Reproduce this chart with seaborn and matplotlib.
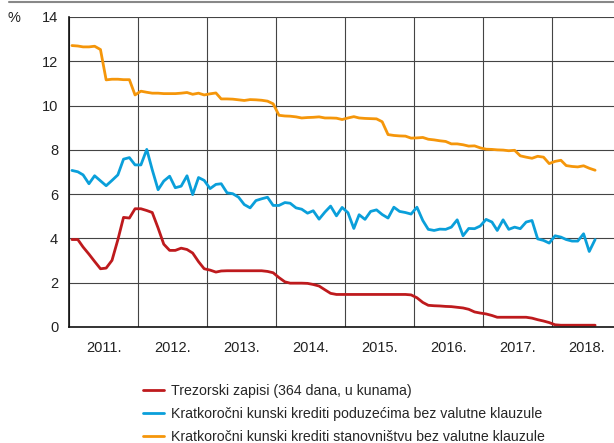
import pandas as pd
import matplotlib.pyplot as plt
import matplotlib.dates as mdates
from matplotlib.lines import Line2D
import seaborn as sns

# monthly data, Jan 2011 - Aug 2018
months = pd.date_range('2011-01-01', periods=92, freq='MS') + pd.Timedelta(days=14)

trezorski = [3.95, 3.95, 3.61, 3.29, 2.96, 2.63, 2.66, 3.01, 3.94, 4.95, 4.92, 5.34,
             5.34, 5.26, 5.17, 4.47, 3.74, 3.46, 3.46, 3.56, 3.50, 3.34, 2.95, 2.63,
             2.57, 2.48, 2.53, 2.54, 2.54, 2.54, 2.54, 2.54, 2.54, 2.54, 2.51, 2.45,
             2.23, 2.04, 1.98, 1.98, 1.98, 1.97, 1.92, 1.85, 1.68, 1.52, 1.47, 1.47,
             1.47, 1.47, 1.47, 1.47, 1.47, 1.47, 1.47, 1.47, 1.47, 1.47, 1.47, 1.45,
             1.32, 1.11, 0.98, 0.96, 0.95, 0.93, 0.92, 0.89, 0.86, 0.80, 0.68, 0.63,
             0.59, 0.52, 0.44, 0.44, 0.44, 0.44, 0.44, 0.44, 0.40, 0.33, 0.27, 0.20,
             0.10, 0.08, 0.08, 0.08, 0.08, 0.08, 0.08, 0.08]

poduzeca = [7.07, 7.01, 6.87, 6.47, 6.83, 6.60, 6.38, 6.62, 6.87, 7.58, 7.65, 7.32,
            7.32, 8.02, 7.10, 6.20, 6.59, 6.81, 6.29, 6.36, 6.83, 5.98, 6.75, 6.62,
            6.25, 6.44, 6.47, 6.06, 6.02, 5.86, 5.53, 5.38, 5.71, 5.79, 5.86, 5.49,
            5.49, 5.62, 5.59, 5.38, 5.32, 5.14, 5.25, 4.87, 5.19, 5.46, 5.02, 5.40,
            5.16, 4.45, 5.07, 4.86, 5.22, 5.29, 5.08, 4.92, 5.41, 5.22, 5.17, 5.10,
            5.41, 4.81, 4.41, 4.36, 4.42, 4.41, 4.51, 4.84, 4.12, 4.45, 4.44, 4.56,
            4.86, 4.74, 4.36, 4.84, 4.41, 4.51, 4.44, 4.74, 4.81, 3.98, 3.91, 3.79,
            4.12, 4.06, 3.95, 3.88, 3.88, 4.21, 3.41, 3.95]

stanovnistvo = [12.71, 12.69, 12.65, 12.65, 12.68, 12.53, 11.16, 11.19, 11.19, 11.17, 11.17, 10.48,
                10.65, 10.60, 10.56, 10.56, 10.54, 10.54, 10.54, 10.56, 10.59, 10.51, 10.56, 10.48,
                10.53, 10.57, 10.30, 10.30, 10.29, 10.26, 10.23, 10.27, 10.26, 10.24, 10.20, 10.08,
                9.56, 9.53, 9.52, 9.49, 9.44, 9.46, 9.47, 9.49, 9.44, 9.44, 9.43, 9.37,
                9.44, 9.50, 9.44, 9.42, 9.41, 9.40, 9.27, 8.69, 8.65, 8.63, 8.62, 8.53,
                8.54, 8.56, 8.48, 8.45, 8.41, 8.38, 8.27, 8.27, 8.23, 8.17, 8.18, 8.09,
                8.03, 8.02, 8.00, 7.99, 7.96, 7.98, 7.73, 7.67, 7.62, 7.71, 7.67, 7.38,
                7.48, 7.53, 7.29, 7.25, 7.23, 7.28, 7.17, 7.08]

labels = ['Trezorski zapisi (364 dana, u kunama)',
          'Kratkoročni kunski krediti poduzećima bez valutne klauzule',
          'Kratkoročni kunski krediti stanovništvu bez valutne klauzule']
colors = ['#BE1A1D', '#0A9FDA', '#F5960A']
year_labels = ['2011.', '2012.', '2013.', '2014.', '2015.', '2016.', '2017.', '2018.']

df = pd.DataFrame({'month': list(months) * 3,
                   'value': trezorski + poduzeca + stanovnistvo,
                   'series': [labels[0]] * 92 + [labels[1]] * 92 + [labels[2]] * 92})

sns.set_style('white')
plt.rcParams['font.family'] = ['Liberation Sans', 'DejaVu Sans']

fig = plt.figure(figsize=(6.14, 4.43), dpi=100)
ax = fig.add_axes([69.3 / 614, 1 - 327 / 443, 1 - 69.3 / 614, 310 / 443])

sns.lineplot(data=df, x='month', y='value', hue='series', hue_order=labels,
             palette=colors, linewidth=2.0, ax=ax, legend=False)

ax.set_ylim(0, 14)
ax.set_yticks(range(0, 15, 2))
ax.set_xlim(pd.Timestamp('2011-01-01'), pd.Timestamp('2018-11-23'))

# grid at year boundaries, labels in the middle of each year
ax.xaxis.set_major_locator(mdates.YearLocator())
ax.xaxis.set_major_formatter(plt.NullFormatter())
mids = [pd.Timestamp(f'{2011 + i}-07-02') for i in range(len(year_labels))]
ax.set_xticks(mids, minor=True)
ax.set_xticklabels(year_labels, minor=True)
ax.tick_params(axis='x', which='both', length=0, pad=10, labelsize=10.5, colors='#222222')
ax.tick_params(axis='y', length=0, pad=8, labelsize=10.5, colors='#222222')
ax.grid(True, which='major', color='#444444', linewidth=0.8)
ax.set_axisbelow(True)
ax.set_xlabel('')
ax.set_ylabel('')

for s in ['top', 'right']:
    ax.spines[s].set_visible(False)
for s in ['left', 'bottom']:
    ax.spines[s].set_color('#111111')
    ax.spines[s].set_linewidth(1.2)

fig.text(8 / 614, 1 - 18 / 443, '%', fontsize=10.5, va='center', ha='left', color='#222222')
fig.add_artist(Line2D([9 / 614, 1], [1 - 2 / 443, 1 - 2 / 443], color='#888888', linewidth=1.5))

handles = [Line2D([], [], color=c, linewidth=2.0) for c in colors]
fig.legend(handles, labels, loc='upper left', bbox_to_anchor=(143 / 614, 1 - 384 / 443),
           frameon=False, fontsize=10.2, handlelength=1.5, handletextpad=0.5,
           labelspacing=0.62, borderpad=0, borderaxespad=0)

fig.savefig('out.png', dpi=100)
